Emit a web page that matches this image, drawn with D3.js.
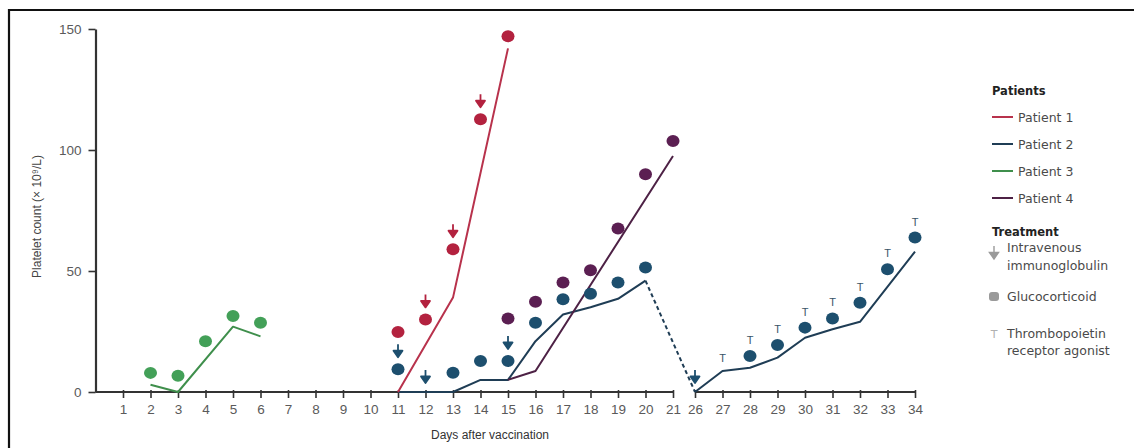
<!DOCTYPE html>
<html>
<head>
<meta charset="utf-8">
<script src="https://cdn.jsdelivr.net/npm/d3@7"></script>
<style>
  html, body { margin: 0; padding: 0; background: #fff; }
  svg { display: block; }
  text { font-family: "Liberation Sans", Arial, sans-serif; }
  .legend text { font-family: "DejaVu Sans", sans-serif; }
</style>
</head>
<body>
<svg id="chart" width="1134" height="448"></svg>
<script>
// ---- Axis ticks ----
const dayTicksEarly = [1,2,3,4,5,6,7,8,9,10,11,12,13,14,15,16,17,18,19,20,21];
const dayTicksLate = [26,27,28,29,30,31,32,33,34];
const yTicks = [0, 50, 100, 150];

// ---- Platelet count lines (x 10^9/L) ----
const p1LineDays = [11, 13, 15];
const p1Line = [0, 39, 142];

const p2LineDays = [11, 12, 13, 14, 15, 16, 17, 18, 19, 20];
const p2Line = [0, 0, 0, 5, 5, 21, 32, 35, 38.5, 46];
const p2GapDays = [20, 26];          // dashed: no measurements in between
const p2GapLine = [46, 0];
const p2LateDays = [26, 27, 28, 29, 30, 31, 32, 34];
const p2Late = [0, 8.7, 10, 14.2, 22.4, 25.9, 29, 58];

const p3LineDays = [2, 3, 5, 6];
const p3Line = [3, 0, 27, 23];

const p4LineDays = [15, 16, 21];
const p4Line = [5, 8.7, 97.5];

// ---- Glucocorticoid markers ----
const p1GcDays = [11, 12, 13, 14, 15];
const p1Gc = [24.8, 30, 59, 112.7, 147];
const p2GcDays = [11, 13, 14, 15, 16, 17, 18, 19, 20, 28, 29, 30, 31, 32, 33, 34];
const p2Gc = [9.4, 8, 12.8, 12.8, 28.6, 38.3, 40.6, 45.2, 51.4, 14.9, 19.4, 26.6, 30.4, 36.9, 50.7, 63.8];
const p3GcDays = [2, 3, 4, 5, 6];
const p3Gc = [7.9, 6.7, 21, 31.4, 28.6];
const p4GcDays = [15, 16, 17, 18, 19, 20, 21];
const p4Gc = [30.4, 37.3, 45.2, 50.3, 67.6, 90, 103.7];

// ---- IVIG and TPO-RA days ----
const p1IvigDays = [12, 13, 14];
const p2IvigDays = [11, 12, 15, 26];
const p2TpoDays = [27, 28, 29, 30, 31, 32, 33, 34];

const patientNames = ["Patient 1", "Patient 2", "Patient 3", "Patient 4"];
const lineColors = ["#b8324c", "#1f3d55", "#3f8f4c", "#4d2145"];
const dotColors  = ["#b3223f", "#1d4f6e", "#43a058", "#5b1f52"];

const svg = d3.select("#chart");

// Outer frame (left and top edges visible)
svg.append("path")
  .attr("d", "M9,448 V10 H1134")
  .attr("fill", "none").attr("stroke", "#111").attr("stroke-width", 2.2);

// ---- Scales: the day axis is broken between 21 and 26 ----
const xA = d3.scaleLinear().domain([0, 21]).range([95.5, 673]);
const xB = d3.scaleLinear().domain([26, 34]).range([695, 915]);
const x = d => (d <= 21 ? xA(d) : xB(d));
const y = d3.scaleLinear().domain([0, 150]).range([392, 29]);

// ---- Axes ----
const axisColor = "#333";
function styleAxis(g) {
  g.select(".domain").attr("stroke", axisColor).attr("stroke-width", 2.2);
  g.selectAll(".tick line").attr("stroke", axisColor).attr("stroke-width", 1.6);
  g.selectAll(".tick text")
    .attr("fill", "#5a5a5a")
    .style("font-size", "13.5px")
    .style("font-family", "'Liberation Sans', Arial, sans-serif");
}

const gxA = svg.append("g").attr("transform", `translate(0,${y(0)})`)
  .call(d3.axisBottom(xA).tickValues(dayTicksEarly).tickSize(6).tickSizeOuter(0).tickPadding(6));
const gxB = svg.append("g").attr("transform", `translate(0,${y(0)})`)
  .call(d3.axisBottom(xB).tickValues(dayTicksLate).tickSize(6).tickSizeOuter(0).tickPadding(6));
[gxA, gxB].forEach(g => {
  styleAxis(g);
  g.selectAll(".tick line").attr("y1", -2);
});
// The first segment's domain starts at the y axis
gxA.select(".domain").attr("d", `M${xA(0)},0H${xA(21)}`);
gxB.select(".domain").attr("d", `M${xB(26)},0H${xB(34)}`);

const gy = svg.append("g").attr("transform", `translate(${xA(0)},0)`)
  .call(d3.axisLeft(y).tickValues(yTicks).tickSize(7).tickSizeOuter(0).tickPadding(7));
styleAxis(gy);

// Axis titles
svg.append("text")
  .attr("x", 490).attr("y", 439)
  .attr("text-anchor", "middle")
  .attr("fill", "#333").style("font-size", "12px")
  .text("Days after vaccination");

svg.append("text")
  .attr("transform", `translate(41,${(y(0) + y(150)) / 2 + 6}) rotate(-90)`)
  .attr("text-anchor", "middle")
  .attr("fill", "#444").style("font-size", "12px")
  .text("Platelet count (× 10⁹/L)");

// ---- Lines ----
const lineGen = d3.line().x(d => x(d[0])).y(d => y(d[1]));
const zip = (a, b) => a.map((d, i) => [d, b[i]]);

function drawLine(days, vals, color, dashed) {
  svg.append("path")
    .datum(zip(days, vals))
    .attr("d", lineGen)
    .attr("fill", "none")
    .attr("stroke", color)
    .attr("stroke-width", 2)
    .attr("stroke-linejoin", "round")
    .attr("stroke-dasharray", dashed ? "4,3" : null);
}

drawLine(p3LineDays, p3Line, lineColors[2]);
drawLine(p2LineDays, p2Line, lineColors[1]);
drawLine(p2GapDays, p2GapLine, lineColors[1], true);
drawLine(p2LateDays, p2Late, lineColors[1]);
drawLine(p4LineDays, p4Line, lineColors[3]);
drawLine(p1LineDays, p1Line, lineColors[0]);

// ---- Glucocorticoid dots ----
function drawDots(days, vals, color) {
  svg.append("g").selectAll("ellipse")
    .data(zip(days, vals))
    .join("ellipse")
    .attr("cx", d => x(d[0]))
    .attr("cy", d => y(d[1]))
    .attr("rx", 6.5).attr("ry", 6)
    .attr("fill", color);
}
drawDots(p3GcDays, p3Gc, dotColors[2]);
drawDots(p2GcDays, p2Gc, dotColors[1]);
drawDots(p4GcDays, p4Gc, dotColors[3]);
drawDots(p1GcDays, p1Gc, dotColors[0]);

// Anchor for a treatment marker: just above the dot for that day if there is one,
// otherwise just above the platelet line
function anchorY(day, gcDays, gcVals, lineDays, lineVals) {
  const i = gcDays.indexOf(day);
  if (i >= 0) return y(gcVals[i]) - 17;
  const j = lineDays.indexOf(day);
  return y(j >= 0 ? lineVals[j] : 0) - 14;
}

// Down arrow glyph for IVIG
function arrowPath(cx, cy) {
  return `M${cx},${cy - 8} V${cy + 1} M${cx - 4.5},${cy - 1.5} L${cx},${cy + 5} L${cx + 4.5},${cy - 1.5} Z`;
}
function drawArrows(days, color, gcDays, gcVals, lineDays, lineVals) {
  svg.append("g").selectAll("path")
    .data(days)
    .join("path")
    .attr("d", d => arrowPath(x(d), anchorY(d, gcDays, gcVals, lineDays, lineVals)))
    .attr("fill", color)
    .attr("stroke", color)
    .attr("stroke-width", 1.8)
    .attr("stroke-linejoin", "round");
}
drawArrows(p1IvigDays, dotColors[0], p1GcDays, p1Gc, p1LineDays, p1Line);
const p2AllDays = p2LineDays.concat(p2LateDays);
const p2AllVals = p2Line.concat(p2Late);
drawArrows(p2IvigDays, dotColors[1], p2GcDays, p2Gc, p2AllDays, p2AllVals);

// "T" glyphs for thrombopoietin receptor agonist
svg.append("g").selectAll("text")
  .data(p2TpoDays)
  .join("text")
  .attr("x", d => x(d))
  .attr("y", d => anchorY(d, p2GcDays, p2Gc, p2AllDays, p2AllVals) + 5)
  .attr("text-anchor", "middle")
  .attr("fill", "#3a5468")
  .style("font-size", "11px")
  .text("T");

// ---- Legend ----
const lg = svg.append("g").attr("class", "legend").attr("transform", "translate(992,0)");
const textCol = "#4a4a4a";
const fs = "12.5px";
lg.append("text").attr("x", 0).attr("y", 95)
  .attr("fill", "#222").style("font-size", "11.5px").style("font-weight", "bold")
  .text("Patients");

const legendRows = [117, 144, 171, 198];
patientNames.forEach((name, i) => {
  lg.append("line")
    .attr("x1", 0).attr("x2", 21)
    .attr("y1", legendRows[i]).attr("y2", legendRows[i])
    .attr("stroke", lineColors[i]).attr("stroke-width", 2);
  lg.append("text").attr("x", 26).attr("y", legendRows[i] + 4.5)
    .attr("fill", textCol).style("font-size", fs)
    .text(name);
});

lg.append("text").attr("x", 0).attr("y", 236)
  .attr("fill", "#222").style("font-size", "11.5px").style("font-weight", "bold")
  .text("Treatment");

const iconCol = "#9a9a9a";
lg.append("path").attr("d", arrowPath(2, 254))
  .attr("fill", iconCol).attr("stroke", iconCol).attr("stroke-width", 1.4);
lg.append("text").attr("x", 15).attr("y", 252)
  .attr("fill", textCol).style("font-size", fs).text("Intravenous");
lg.append("text").attr("x", 15).attr("y", 270)
  .attr("fill", textCol).style("font-size", fs).text("immunoglobulin");

lg.append("rect").attr("x", -3).attr("y", 292).attr("width", 10).attr("height", 9)
  .attr("rx", 3).attr("fill", iconCol);
lg.append("text").attr("x", 15).attr("y", 301)
  .attr("fill", textCol).style("font-size", fs).text("Glucocorticoid");

lg.append("text").attr("x", 2).attr("y", 338).attr("text-anchor", "middle")
  .attr("fill", "#b0b0b0").style("font-size", "11px").text("T");
lg.append("text").attr("x", 15).attr("y", 338)
  .attr("fill", textCol).style("font-size", fs).text("Thrombopoietin");
lg.append("text").attr("x", 15).attr("y", 355)
  .attr("fill", textCol).style("font-size", fs).text("receptor agonist");
</script>
</body>
</html>
